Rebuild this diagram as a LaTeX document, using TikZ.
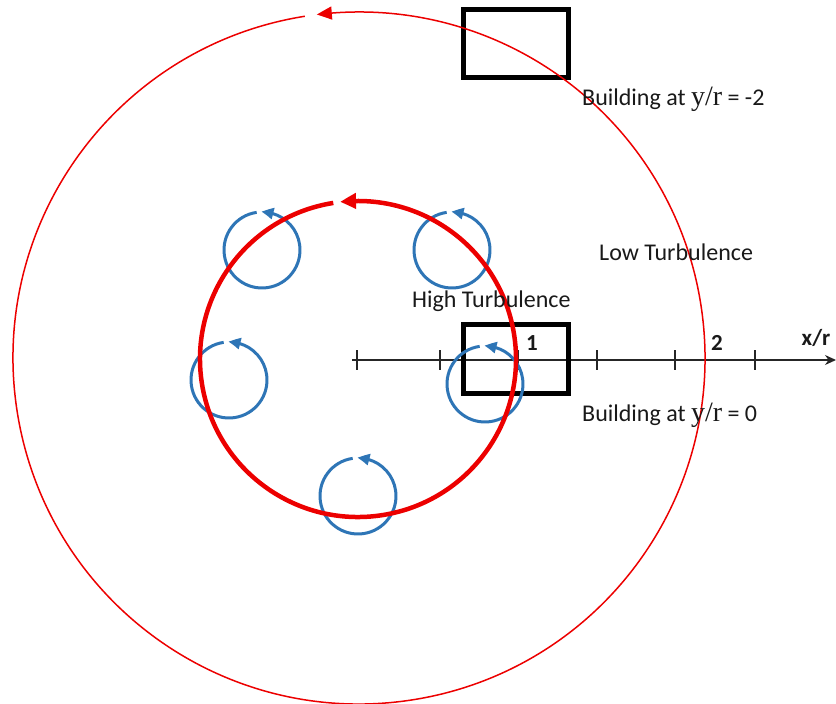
\documentclass[tikz,border=0pt]{standalone}
\usepackage{fontspec}
\setmainfont{Carlito}
\newfontfamily\ratiofont{Liberation Serif}
\usepackage{tikz}
\usetikzlibrary{arrows.meta, positioning, bending}
\definecolor{flowred}{RGB}{236,0,0}
\definecolor{vortexblue}{RGB}{46,117,182}

\begin{document}
\begin{tikzpicture}[
	x=1pt, y=1pt,
	building/.style={draw=black, line width=5pt, minimum width=105pt, minimum height=68pt, inner sep=0pt},
	outerflow/.style={draw=flowred, line width=1.5pt, -{Triangle[length=15pt, width=13pt, bend]}},
	innerflow/.style={draw=flowred, line width=4.5pt, -{Triangle[length=16pt, width=15pt, bend]}},
	vortex/.style={draw=vortexblue, line width=3pt, -{Triangle[length=12pt, width=11pt, bend]}},
	axisline/.style={draw=black!85, line width=1.4pt},
	note/.style={font=\fontsize{24}{28}\selectfont, anchor=west, inner sep=0pt, text=black!90},
	ticknote/.style={font=\fontsize{23}{27}\selectfont\bfseries, inner sep=0pt, text=black!90}
	]
	\useasboundingbox (0,0) rectangle (836,-704);
	
	% Axis
	\coordinate (origin) at (352,-360);
	\coordinate (axisend) at (836,-360);
	\draw[axisline, -{Stealth[length=11pt, width=10pt]}] (origin) -- (axisend);
	\foreach \tx in {357,440,518,597,675,755}
		\draw[axisline] (\tx,-350) -- (\tx,-370);
	
	% Buildings
	\node[building] (topbuilding) at (516,-43.5) {};
	\node[building, minimum height=69pt] (botbuilding) at (516,-359) {};
	
	% Vortices
	\coordinate (vtl) at (262,-250);
	\coordinate (vtr) at (452,-250);
	\coordinate (vml) at (229,-380);
	\coordinate (vmr) at (485,-384);
	\coordinate (vbot) at (358,-496);
	\draw[vortex] (vtl) ++(98:38pt) arc[start angle=98, end angle=451, radius=38pt];
	\draw[vortex] (vtr) ++(98:38pt) arc[start angle=98, end angle=451, radius=38pt];
	\draw[vortex] (vml) ++(98:38pt) arc[start angle=98, end angle=451, radius=38pt];
	\draw[vortex] (vmr) ++(98:38pt) arc[start angle=98, end angle=451, radius=38pt];
	\draw[vortex] (vbot) ++(98:38pt) arc[start angle=98, end angle=451, radius=38pt];
	
	% Flow circles
	\coordinate (inner) at (358,-359);
	\coordinate (outer) at (359,-358);
	\draw[innerflow] (inner) ++(99:158pt) arc[start angle=99, end angle=456.5, radius=158pt];
	\draw[outerflow] (outer) ++(99:346pt) arc[start angle=99, end angle=457, radius=346pt];
	
	% Labels
	\node[note] (toplabel) at (582,-99) {Building at {\ratiofont\fontsize{28}{30}\selectfont y/r} = -2};
	\node[note] (lowturb) at (599,-252) {Low Turbulence};
	\node[note] (highturb) at (412,-301) {High Turbulence};
	\node[note] (botlabel) at (582,-415) {Building at {\ratiofont\fontsize{28}{30}\selectfont y/r} = 0};
	\node[ticknote] (one) at (532,-343) {1};
	\node[ticknote] (two) at (717,-343) {2};
	\node[ticknote] (xr) at (816,-338) {x/r};
\end{tikzpicture}
\end{document}
